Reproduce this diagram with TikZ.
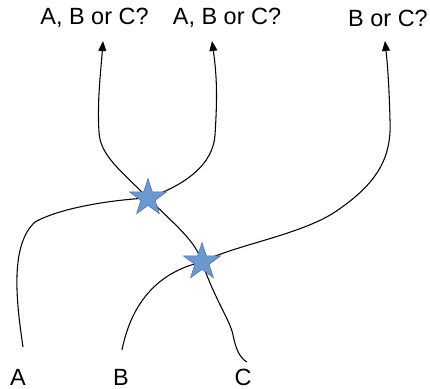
\documentclass[tikz,border=0pt]{standalone}
\usepackage{fontspec}
\setmainfont{Liberation Sans}
\usetikzlibrary{shapes.geometric,arrows.meta}
\definecolor{starfill}{HTML}{6A98D0}
\definecolor{starline}{HTML}{4A74A8}
\tikzset{
  lbl/.style={inner sep=0pt, font=\fontsize{17.6}{20}\selectfont},
  starnode/.style={star, star points=5, star point ratio=2.618, minimum size=39*0.75pt, inner sep=0pt, fill=starfill, draw=starline, line width=0.4pt},
  wire/.style={draw=black, line width=0.8pt},
  arr/.style={wire, -{Triangle[length=7.5pt,width=6pt]}}
}
\begin{document}
\begin{tikzpicture}[x=0.75pt,y=-0.75pt]
\useasboundingbox (0,0) rectangle (430,389);
% labels
\node[lbl] (l1) at (94.5,18) {A, B or C?};
\node[lbl] (l2) at (227,18) {A, B or C?};
\node[lbl] (l3) at (388,18) {B or C?};
\node[lbl, anchor=base] (la) at (18,385.5) {A};
\node[lbl, anchor=base] (lb) at (121,385.5) {B};
\node[lbl, anchor=base] (lc) at (243,385.5) {C};
% end points
\coordinate (a0) at (23,347);
\coordinate (b0) at (122,350);
\coordinate (c0) at (247,362);
\coordinate (t1) at (103,41);
\coordinate (t2) at (212,41);
\coordinate (t3) at (385,41);
\coordinate (s1c) at (148,198);
\coordinate (s2c) at (202,262);
% wires
\draw[wire] (a0) .. controls (16,300) and (10,245) .. (35,222)
  .. controls (60,208) and (110,200) .. (s1c);
\draw[arr] (s1c) .. controls (120,170) and (100,155) .. (99,132)
  .. controls (97,100) and (101,70) .. (t1);
\draw[arr] (s1c) .. controls (185,185) and (213,165) .. (215,135)
  .. controls (218,90) and (216,70) .. (t2);
\draw[wire] (s1c) .. controls (175,225) and (195,240) .. (s2c);
\draw[wire] (s2c) .. controls (215,300) and (230,320) .. (233,335)
  .. controls (236,350) and (240,358) .. (c0);
\draw[wire] (b0) .. controls (128,320) and (145,275) .. (s2c);
\draw[arr] (s2c) .. controls (235,245) and (300,235) .. (335,212)
  .. controls (375,185) and (392,160) .. (390,120)
  .. controls (389,80) and (387,60) .. (t3);
% stars
\node[starnode] (s1) at (s1c) {};
\node[starnode] (s2) at (s2c) {};
\end{tikzpicture}
\end{document}
